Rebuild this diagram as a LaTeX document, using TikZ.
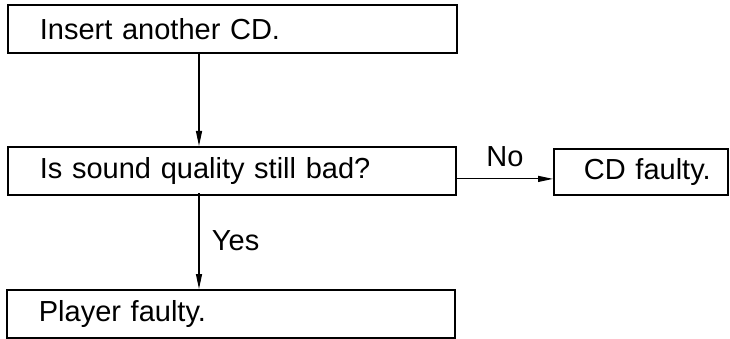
\documentclass[tikz,border=0pt]{standalone}
\usepackage{fontspec}
\setmainfont{Liberation Sans}
\usetikzlibrary{positioning,arrows.meta}

\begin{document}
\begin{tikzpicture}[x=1pt,y=-1pt,b/.style={draw,line width=1.8pt,anchor=north west,minimum height=48pt,inner xsep=32pt,align=left,font=\fontsize{29}{33}\selectfont},a/.style={-{Triangle[length=15pt,width=6pt]},line width=1.2pt},l/.style={font=\fontsize{29}{33}\selectfont}]
\useasboundingbox (0,0) rectangle (730,339);
\node[b,text width=385pt](ins) at (7,4){Insert another CD.};
\node[b,text width=384pt](qual) at (7,146){Is sound quality still bad?};
\node[b,text width=384pt](player) at (6,289){Player faulty.};
\node[b,text width=140pt,minimum height=46pt,inner xsep=17pt](cd) at (553,148){\hspace*{13pt}CD faulty.};
\coordinate (top) at (199,52);
\coordinate (mid) at (199,193);
\draw[a](top)--(top|-qual.north);
\draw[a](mid)--node[l,right=9pt]{Yes}(mid|-player.north);
\draw[a]([yshift=-8pt]qual.east)--node[l,above=8pt]{No}([yshift=-8pt]qual.east-|cd.west);
\end{tikzpicture}
\end{document}
